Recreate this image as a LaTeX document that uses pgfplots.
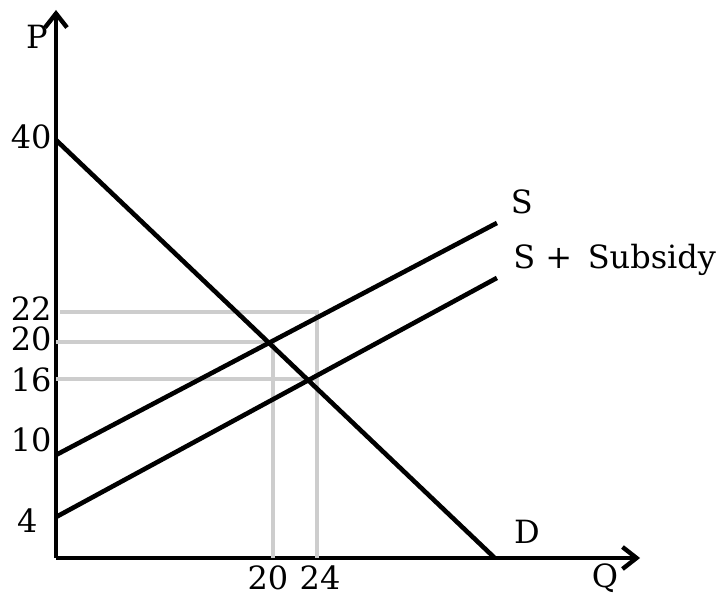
\documentclass[border=0pt]{standalone}
\usepackage{fontspec}
\setmainfont{DejaVu Serif}
\usepackage{pgfplots}
\usepackage{pgfplotstable}
\pgfplotsset{compat=1.18}
\usetikzlibrary{arrows.meta}

\definecolor{guide}{RGB}{205,205,205}

% curves (Q, P) as drawn
\pgfplotstableread{
q p
0    40
40.4 0
}\demand
\pgfplotstableread{
q p
0    9.86
40.6 32.06
}\supply
\pgfplotstableread{
q p
0    3.92
40.6 26.8
}\subsidy

\begin{document}
\begin{tikzpicture}[font=\fontsize{16pt}{19pt}\selectfont]
\useasboundingbox (-28pt,-18.5pt) rectangle (331pt,279pt);
\begin{axis}[
    anchor=origin, at={(0pt,0pt)},
    x=5.43pt, y=5.225pt,
    xmin=0, xmax=53.78,
    ymin=0, ymax=52.44,
    axis lines=left,
    axis line style={line width=2.3pt},
    x axis line style={-{Straight Barb[length=7pt,width=11pt,line width=2.2pt]}},
    y axis line style={-{Straight Barb[length=7pt,width=11pt,line width=2.2pt]}},
    major tick length=0pt,
    xtick={19.52,24.31},
    xticklabels={20,24},
    ytick={3.54,11.29,17.03,20.96,23.83,40.29},
    yticklabels={4\hspace*{7pt},10,16,20,22,40},
    xticklabel style={anchor=north, inner sep=0pt, yshift=-3.5pt},
    yticklabel style={anchor=east, inner sep=0pt, xshift=-2pt},
    clip=false,
]
% guide lines
\addplot[guide, line width=2pt] coordinates {(0.4,23.54) (24.03,23.54) (24.03,0)};
\addplot[guide, line width=2pt] coordinates {(0,20.67) (19.98,20.67) (19.98,0)};
\addplot[guide, line width=2pt] coordinates {(0,17.13) (24.03,17.13)};

% demand and supply
\addplot[black, line width=2.3pt] table[x=q, y=p] {\demand};
\addplot[black, line width=2.3pt] table[x=q, y=p] {\supply};
\addplot[black, line width=2.3pt] table[x=q, y=p] {\subsidy};

\node at (axis cs:-1.75,49.86) {P};
\node[inner sep=1pt] at (axis cs:50.55,-1.9) {Q};
\node at (axis cs:43.37,2.49) {D};
\node at (axis cs:42.9,34.07) {S};
\node[anchor=base west, inner sep=0pt] at (axis cs:42.08,27.75) {S +\, Subsidy};
\end{axis}
\end{tikzpicture}
\end{document}
